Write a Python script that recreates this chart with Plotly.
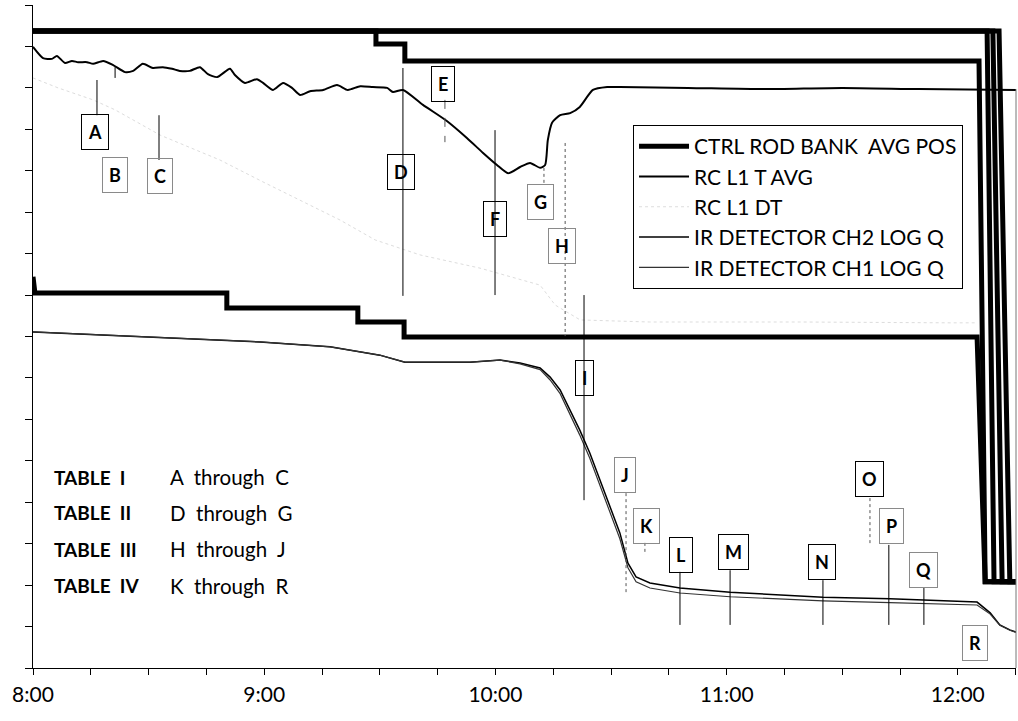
import pandas as pd
import plotly.graph_objects as go

# ---------------- data (time in minutes after 08:00) ----------------
BASE = pd.Timestamp("2000-01-01 08:00")

tavg_t = [0, 2.6, 4.9, 6.2, 8.3, 10.1, 11.7, 14.0, 15.6, 18.2, 20.8, 23.9, 26.0, 28.5, 31.1,
          33.7, 36.1, 38.1, 40.7, 43.3, 45.4, 47.8, 51.1, 52.4, 55.0, 58.1, 59.7, 62.3, 64.9,
          67.2, 69.3, 71.9, 75.3, 78.9, 81.7, 84.9, 88.2, 91.9, 93.4, 96.0, 101.2, 107.4,
          112.6, 116.8, 120.4, 123.3, 126.4, 129.0, 131.6, 132.9, 133.6, 134.7, 136.8, 139.4,
          141.9, 145.3, 149.0, 152.3, 170, 190, 210, 230, 255.1]
tavg_v = [14.99, 14.72, 14.70, 14.77, 14.60, 14.65, 14.62, 14.62, 14.58, 14.65, 14.55, 14.38,
          14.41, 14.58, 14.48, 14.50, 14.46, 14.41, 14.41, 14.50, 14.33, 14.26, 14.46, 14.31,
          14.12, 14.21, 14.12, 13.95, 14.12, 14.00, 13.83, 13.92, 13.95, 14.07, 13.95, 14.04,
          14.02, 14.00, 13.90, 13.95, 13.59, 13.20, 12.79, 12.43, 12.14, 11.94, 12.09, 12.19,
          12.07, 12.14, 12.74, 13.16, 13.34, 13.39, 13.54, 13.95, 14.02, 14.02, 14.00, 13.97,
          14.00, 13.97, 13.95]

dt_t = [0, 6.5, 15.6, 21.3, 33.0, 48.5, 59.7, 69.3, 79.7, 88.8, 100.4, 116.0, 131.6, 135.5,
        142.0, 160.0, 199.0, 238.0, 244.7]
dt_v = [14.24, 14.00, 13.71, 13.47, 12.86, 12.26, 11.73, 11.29, 10.81, 10.33, 9.97, 9.65, 9.24,
        8.76, 8.40, 8.35, 8.35, 8.33, 8.33]

ir_t = [0, 58.9, 77.1, 90.0, 96.5, 113.4, 121.2, 126.4, 131.6, 134.2, 136.8, 139.4, 141.9,
        144.5, 147.1, 149.7, 152.3, 154.4, 156.5, 160.1, 167.9, 180.9, 205.0, 222.4, 245.0,
        248.4, 250.9, 253.5, 255.1]
ch2_v = [8.11, 7.87, 7.75, 7.55, 7.38, 7.38, 7.43, 7.36, 7.24, 7.02, 6.71, 6.23, 5.74, 5.19,
         4.54, 3.89, 3.26, 2.53, 2.20, 2.05, 1.93, 1.83, 1.71, 1.67, 1.59, 1.33, 1.04, 0.92, 0.87]
ch1_v = [8.11, 7.87, 7.75, 7.55, 7.38, 7.38, 7.43, 7.34, 7.20, 6.95, 6.62, 6.12, 5.62, 5.06,
         4.40, 3.75, 3.12, 2.42, 2.08, 1.93, 1.81, 1.72, 1.62, 1.58, 1.52, 1.30, 1.03, 0.91, 0.86]

# control rod banks
bank_a1_t = [0, 247.6, 249.4, 255.1]
bank_a1_v = [15.37, 15.37, 2.08, 2.08]
bank_a2_t = [0, 249.1, 251.5, 255.1]
bank_a2_v = [15.37, 15.37, 2.08, 2.08]
bank_a3_t = [0, 250.7, 253.5, 255.1]
bank_a3_v = [15.37, 15.37, 2.08, 2.08]
bank_b_t = [0, 89.0, 89.0, 96.5, 96.5, 245.5, 247.1, 255.1]
bank_b_v = [15.37, 15.37, 15.06, 15.06, 14.65, 14.65, 2.08, 2.08]
bank_c_t = [0, 0.5, 50.3, 50.3, 84.3, 84.3, 96.3, 96.3, 245.0, 247.1, 255.1]
bank_c_v = [9.44, 9.05, 9.05, 8.69, 8.69, 8.35, 8.35, 7.99, 7.99, 2.08, 2.08]

# event labels
mk_label = list("ABCDEFGHIJKLMNOPQR")
mk_t = [16.1, 21.3, 33.0, 95.5, 106.4, 119.9, 131.8, 137.3, 143.0, 153.6, 159.1, 168.2,
        181.7, 204.8, 217.2, 222.7, 231.0, 244.5]
mk_v = [12.93, 11.90, 11.87, 11.97, 14.09, 10.83, 11.25, 10.18, 7.00, 4.66, 3.43, 2.73,
        2.80, 2.56, 4.56, 3.43, 2.36, 0.60]
mk_faint = [False, True, True, False, False, False, True, True, False, True, True, False,
            False, False, False, True, True, True]

# leader lines
ld_t = [16.6, 21.3, 32.7, 96.0, 106.9, 119.9, 132.6, 138.1, 143.0, 153.9, 158.8, 167.9,
        180.9, 205.0, 217.2, 222.1, 231.2]
ld_top = [14.19, 14.50, 13.34, 14.48, 13.71, 12.98, 12.07, 12.67, 9.00, 4.22, 3.02, 2.32,
          2.36, 2.12, 4.10, 2.97, 1.95]
ld_bot = [13.34, 14.24, 12.26, 8.98, 12.69, 9.00, 11.66, 8.01, 4.05, 1.81, 2.73, 1.04,
          1.04, 1.04, 2.97, 1.04, 1.04]
ld_dash = ["solid", "solid", "solid", "solid", "dash", "solid", "dot", "dot", "solid", "dot",
           "dot", "solid", "solid", "solid", "dot", "solid", "solid"]

table_names = ["TABLE  I", "TABLE  II", "TABLE  III", "TABLE  IV"]
table_ranges = ["A  through  C", "D  through  G", "H  through  J", "K  through  R"]

hour_ticks = [0, 60, 120, 180, 240]
x_end = 255.1


def tt(mins):
    return [BASE + pd.Timedelta(minutes=m) for m in mins]


FONT = "Lato"
fig = go.Figure()

banks = [(bank_a1_t, bank_a1_v), (bank_a2_t, bank_a2_v), (bank_a3_t, bank_a3_v),
         (bank_b_t, bank_b_v), (bank_c_t, bank_c_v)]
for i, (bt, bv) in enumerate(banks):
    fig.add_trace(go.Scatter(x=tt(bt), y=bv, mode="lines",
                             line=dict(color="black", width=5),
                             name="CTRL\u00a0ROD\u00a0BANK\u00a0\u00a0AVG\u00a0POS",
                             showlegend=(i == 0), hoverinfo="skip"))

fig.add_trace(go.Scatter(x=tt(tavg_t), y=tavg_v, mode="lines",
                         line=dict(color="black", width=2, shape="spline", smoothing=0.6),
                         name="RC L1 T AVG"))
fig.add_trace(go.Scatter(x=tt(dt_t), y=dt_v, mode="lines",
                         line=dict(color="#dddddd", width=1, dash="dot"), name="RC L1 DT"))
fig.add_trace(go.Scatter(x=tt(ir_t), y=ch2_v, mode="lines",
                         line=dict(color="black", width=1.5), name="IR DETECTOR CH2 LOG Q"))
fig.add_trace(go.Scatter(x=tt(ir_t), y=ch1_v, mode="lines",
                         line=dict(color="#333333", width=1.2), name="IR DETECTOR CH1 LOG Q"))

for t, y0, y1, d in zip(ld_t, ld_top, ld_bot, ld_dash):
    fig.add_trace(go.Scatter(x=tt([t, t]), y=[y0, y1], mode="lines",
                             line=dict(color="black" if d == "solid" else "#555555",
                                       width=1, dash=d),
                             showlegend=False, hoverinfo="skip"))

annotations = []
for lab, t, v, faint in zip(mk_label, mk_t, mk_v, mk_faint):
    annotations.append(dict(x=BASE + pd.Timedelta(minutes=t), y=v, xref="x", yref="y",
                            text="<b>%s</b>" % lab, showarrow=False,
                            font=dict(family=FONT, size=18, color="black"),
                            bordercolor="#8a8a8a" if faint else "black", borderwidth=1,
                            borderpad=6, bgcolor="rgba(255,255,255,0)"))

row_y = [0.288, 0.234, 0.179, 0.124]
for name, rng, ry in zip(table_names, table_ranges, row_y):
    annotations.append(dict(x=0.0193, y=ry, xref="paper", yref="paper", xanchor="left",
                            yanchor="middle", showarrow=False,
                            text="<b>%s</b>" % name.replace(" ", "\u00a0"),
                            font=dict(family=FONT, size=19, color="black")))
    annotations.append(dict(x=0.137, y=ry, xref="paper", yref="paper", xanchor="left",
                            yanchor="middle", showarrow=False,
                            text=rng.replace(" ", "\u00a0"),
                            font=dict(family=FONT, size=20.5, color="black")))

fig.update_layout(
    width=1018, height=721,
    margin=dict(l=33, r=2, t=5, b=53),
    paper_bgcolor="white", plot_bgcolor="white",
    showlegend=True,
    legend=dict(x=0.6104, y=0.819, xanchor="left", yanchor="top",
                bgcolor="white", bordercolor="black", borderwidth=1,
                font=dict(family=FONT, size=21, color="black"),
                itemwidth=50, tracegroupgap=0),
    annotations=annotations,
    xaxis=dict(type="date",
               range=[BASE, BASE + pd.Timedelta(minutes=x_end)],
               tickvals=tt(hour_ticks), tickformat="%-H:%M",
               ticks="outside", ticklen=6, tickcolor="black", tickwidth=1,
               minor=dict(dtick=15 * 60 * 1000, tick0=BASE, ticks="outside", ticklen=6,
                          tickcolor="black", tickwidth=1, showgrid=False),
               showline=True, linecolor="black", linewidth=1,
               showgrid=False, zeroline=False,
               tickfont=dict(family=FONT, size=21, color="black"),
               ticklabelstandoff=2),
    yaxis=dict(range=[0, 16], dtick=1, ticks="outside", ticklen=7, tickcolor="black",
               showticklabels=False, showline=True, linecolor="black", linewidth=1,
               showgrid=False, zeroline=False),
    shapes=[dict(type="line", xref="paper", yref="y", x0=1, x1=1, y0=0, y1=13.97,
                 line=dict(color="#777777", width=1))],
)

fig.write_html("out.html", config={"displayModeBar": False},
               post_script="document.body.style.margin='0';document.body.style.overflow='hidden';")
